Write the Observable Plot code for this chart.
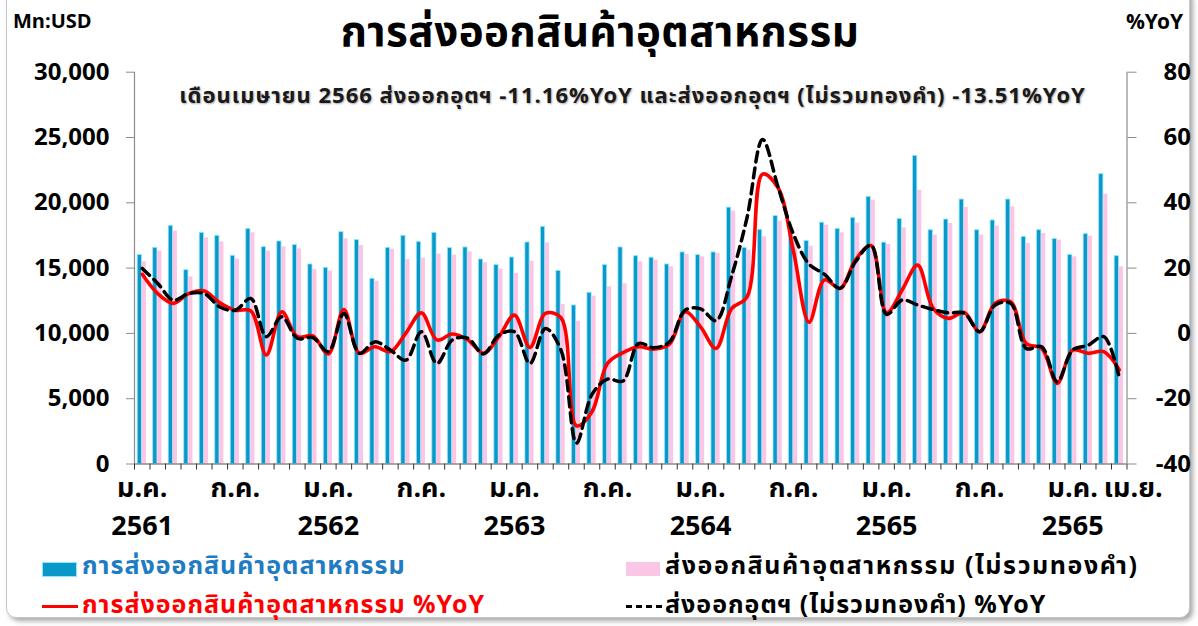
<!DOCTYPE html>
<html>
<head>
<meta charset="utf-8">
<script src="https://cdn.jsdelivr.net/npm/d3@7"></script>
<script src="https://cdn.jsdelivr.net/npm/@observablehq/plot@0.6"></script>
<style>
  html, body { margin: 0; padding: 0; background: #fff; }
  body { font-family: "Noto Sans Thai", Tahoma, "Noto Sans", "DejaVu Sans", sans-serif; }
  #wrap { position: relative; width: 1198px; height: 626px; overflow: hidden; background: #fff; }
  #frame { position: absolute; left: 6px; top: -12px; width: 1182px; height: 628px; border: 1px solid #c8c8c8; border-radius: 10px; box-shadow: 3px 3px 5px rgba(0,0,0,0.35); background: #fff; }
  #chart { position: absolute; left: 0; top: 0; }
  .t { position: absolute; white-space: nowrap; font-weight: bold; line-height: 1; }
  #title { left: 0; width: 1200px; text-align: center; top: 12px; font-size: 42px; letter-spacing: 0.5px; color: #000; }
  #unitL { left: 13px; top: 12px; font-size: 20px; }
  #unitR { right: 15px; top: 12px; font-size: 21px; }
  #sub { left: 0; width: 1265px; text-align: center; top: 86px; font-size: 22px; letter-spacing: 1px; color: #1a1a1a; text-shadow: 1px 1px 2px rgba(0,0,0,0.35); }
  .lg { position: absolute; font-size: 25px; font-weight: bold; white-space: nowrap; line-height: 1; letter-spacing: 1px; }
  .sw { position: absolute; }
</style>
</head>
<body>
<div id="wrap">
  <div id="frame"></div>
  <div id="chart"></div>
  <div class="t" id="title">การส่งออกสินค้าอุตสาหกรรม</div>
  <div class="t" id="unitL">Mn:USD</div>
  <div class="t" id="unitR">%YoY</div>
  <div class="t" id="sub">เดือนเมษายน 2566 ส่งออกอุตฯ -11.16%YoY และส่งออกอุตฯ (ไม่รวมทองคำ) -13.51%YoY</div>

  <div class="sw" style="left:42px; top:562px; width:33px; height:13px; background:#0a98c9; border:1px solid #8fe6ff;"></div>
  <div class="lg" style="left:82px; top:554px; color:#1f7cc2;">การส่งออกสินค้าอุตสาหกรรม</div>
  <div class="sw" style="left:626px; top:562px; width:34px; height:14px; background:#fbc6e6;"></div>
  <div class="lg" style="left:665px; top:554px; color:#000; letter-spacing: 1.6px;">ส่งออกสินค้าอุตสาหกรรม (ไม่รวมทองคำ)</div>

  <div class="sw" style="left:42px; top:605px; width:36px; height:3px; background:#ff0000;"></div>
  <div class="lg" style="left:82px; top:593px; color:#ff0000;">การส่งออกสินค้าอุตสาหกรรม %YoY</div>
  <div class="sw" style="left:626px; top:605px; width:36px; height:0; border-top:3px dashed #000;"></div>
  <div class="lg" style="left:665px; top:593px; color:#000;">ส่งออกอุตฯ (ไม่รวมทองคำ) %YoY</div>
</div>
<script>
// ---- categories (Jan 2561 .. Apr 2566) ----
const thaiYears = ["2561", "2562", "2563", "2564", "2565", "2566"];
const monthNums = ["01","02","03","04","05","06","07","08","09","10","11","12"];
const months = thaiYears.flatMap(y => monthNums.map(m => `${y}-${m}`)).slice(0, 64);

// ---- series: industrial exports, Mn USD ----
const exportsInd = [
  16000, 16550, 18230, 14840, 17700, 17470, 15940, 18000, 16600, 17040, 16760, 15280,
  15020, 17750, 17140, 14180, 16550, 17470, 16990, 17700, 16530, 16580, 15660, 15230,
  15810, 16960, 18160, 14790, 12140, 13110, 15230, 16580, 15910, 15790, 15280, 16200,
  15990, 16200, 19630, 16550, 17930, 18980, 17920, 17080, 18480, 18000, 18840, 20450,
  16950, 18750, 23590, 17900, 18720, 20250, 17900, 18650, 20250, 17390, 17900, 17220,
  16010, 17600, 22190, 15910
];
// ---- industrial exports excl. gold, Mn USD ----
const exportsIndExGold = [
  15480, 16300, 17830, 14330, 17320, 17010, 15690, 17700, 16300, 16630, 16470, 14900,
  14770, 17240, 16730, 14000, 16450, 15660, 15760, 16070, 15990, 16240, 15400, 14920,
  14590, 15530, 16930, 12220, 10920, 12850, 13570, 13800, 15480, 15610, 15100, 16040,
  15860, 16120, 19360, 16370, 17400, 18600, 17440, 16680, 18280, 17700, 18440, 20200,
  16810, 18080, 20960, 17520, 18420, 19640, 17520, 18210, 19690, 16890, 17650, 17140,
  15860, 17440, 20660, 15100
];
// ---- %YoY industrial exports ----
const yoyInd = [
  18.1, 12.2, 9.2, 12.2, 13.0, 9.4, 7.1, 6.9, -6.6, 6.6, -1.0, -0.8,
  -6.3, 7.3, -6.1, -4.1, -5.6, 0.1, 6.3, -2.0, -0.2, -2.0, -6.1, -1.0,
  5.6, -4.3, 6.1, 4.8, -28.3, -24.0, -9.2, -5.9, -4.1, -4.8, -3.3, 6.6,
  2.0, -4.6, 7.6, 11.2, 48.8, 44.6, 25.0, 3.4, 16.4, 13.8, 22.6, 26.9,
  6.3, 13.3, 20.9, 7.7, 4.6, 6.4, 0.5, 9.2, 9.7, -3.1, -4.6, -15.3,
  -5.1, -6.1, -5.6, -11.16
];
// ---- %YoY industrial exports excl. gold ----
const yoyIndExGold = [
  19.9, 15.3, 10.2, 12.2, 12.2, 8.1, 7.1, 10.7, -1.0, 5.1, -1.5, -1.3,
  -5.6, 6.1, -6.1, -2.6, -5.1, -8.2, 0.5, -9.2, -2.0, -1.5, -6.3, -0.5,
  0.5, -9.2, 1.5, -5.1, -33.6, -18.7, -14.0, -14.6, -3.1, -4.4, -2.6, 7.1,
  7.5, 3.9, 17.5, 35.5, 59.4, 44.8, 30.3, 21.2, 18.1, 13.8, 22.0, 27.0,
  5.8, 10.2, 8.7, 7.3, 6.3, 6.2, 0.5, 8.7, 9.2, -4.6, -4.1, -14.8,
  -5.1, -3.6, -1.0, -13.51
];

// ---- tick labels ----
const leftTicks = [0, 5000, 10000, 15000, 20000, 25000, 30000];
const rightTicks = [-40, -20, 0, 20, 40, 60, 80];
const tickMonths = ["2561-01","2561-07","2562-01","2562-07","2563-01","2563-07","2564-01","2564-07","2565-01","2565-07","2566-01","2566-04"];
const tickMonthLabels = ["ม.ค.","ก.ค.","ม.ค.","ก.ค.","ม.ค.","ก.ค.","ม.ค.","ก.ค.","ม.ค.","ก.ค.","ม.ค.","เม.ย."];
const yearTicks = ["2561-01","2562-01","2563-01","2564-01","2565-01","2566-01"];
const yearLabels = ["2561","2562","2563","2564","2565","2565"];

const data = months.map((m, i) => ({
  m, exp: exportsInd[i], exg: exportsIndExGold[i], yoy: yoyInd[i], yoyg: yoyIndExGold[i]
}));

// right axis (%YoY, -40..80) mapped onto left scale (0..30000)
const toLeft = v => (v + 40) * 250;
const fromLeft = v => v / 250 - 40;

const W = 1198, H = 626;
const mL = 134, mR = 71.5, mT = 71.7, mB = 162.5;
const bw = (W - mL - mR) / months.length;
const monthLabel = new Map(tickMonths.map((d, i) => [d, tickMonthLabels[i]]));
const yearLabel = new Map(yearTicks.map((d, i) => [d, yearLabels[i]]));
const lastTick = tickMonths[tickMonths.length - 1];
const FONT = '"Noto Sans Thai", Tahoma, "Noto Sans", "DejaVu Sans", sans-serif';

const chart = Plot.plot({
  width: W, height: H,
  marginLeft: mL, marginRight: mR, marginTop: mT, marginBottom: mB,
  style: { fontFamily: FONT, background: "transparent", overflow: "visible" },
  x: { type: "band", domain: months, padding: 0, axis: null, label: null },
  y: { domain: [0, 30000], axis: null, label: null },
  marks: [
    Plot.barY(data, { x: "m", y: "exp", fill: "#0a98c9", stroke: "#8fe6ff", strokeWidth: 0.8, insetLeft: 3.2, insetRight: 8.1 }),
    Plot.barY(data, { x: "m", y: "exg", fill: "#fbc6e6", insetLeft: 7.7, insetRight: 3.6 }),
    Plot.line(data, { x: "m", y: d => toLeft(d.yoy), stroke: "#ff0000", strokeWidth: 3.6, curve: "catmull-rom" }),
    Plot.line(data, { x: "m", y: d => toLeft(d.yoyg), stroke: "#000", strokeWidth: 3.5, strokeDasharray: "10,6", curve: "catmull-rom" }),
    // axis lines
    Plot.ruleY([0], { stroke: "#555", strokeWidth: 1.2 }),
    Plot.ruleX([months[0]], { dx: -bw / 2, stroke: "#8c8c8c", strokeWidth: 1.2 }),
    Plot.ruleX([months[months.length - 1]], { dx: bw / 2, stroke: "#8c8c8c", strokeWidth: 1.2 }),
    // left axis
    Plot.axisY({ anchor: "left", label: null, ticks: leftTicks, tickSize: 8, tickFormat: () => "", color: "#8c8c8c" }),
    Plot.axisY({ anchor: "left", label: null, ticks: leftTicks, tickSize: 0, tickPadding: 25, tickFormat: d3.format(","), fontSize: 24, fontWeight: "bold", color: "#000" }),
    // right axis
    Plot.axisY({ anchor: "right", label: null, ticks: rightTicks.map(toLeft), tickSize: 9, tickFormat: () => "", color: "#8c8c8c" }),
    Plot.axisY({ anchor: "right", label: null, ticks: rightTicks.map(toLeft), tickSize: 0, tickPadding: 64, textAnchor: "end", tickFormat: v => String(Math.round(fromLeft(v))), fontSize: 24, fontWeight: "bold", color: "#000" }),
    // month boundary ticks
    Plot.axisX({ label: null, ticks: months, tickSize: 6, tickFormat: () => "", dx: -bw / 2, color: "#333" }),
    Plot.axisX({ label: null, ticks: [months[months.length - 1]], tickSize: 6, tickFormat: () => "", dx: bw / 2, color: "#333" }),
    // month & year labels
    Plot.axisX({ label: null, ticks: tickMonths.filter(d => d !== lastTick), tickSize: 0, tickPadding: 14, tickFormat: d => monthLabel.get(d), fontSize: 27, fontWeight: "bold", color: "#000" }),
    Plot.axisX({ label: null, ticks: [lastTick], tickSize: 0, tickPadding: 14, dx: 14, tickFormat: d => monthLabel.get(d), fontSize: 27, fontWeight: "bold", color: "#000" }),
    Plot.axisX({ label: null, ticks: yearTicks, tickSize: 0, tickPadding: 52, tickFormat: d => yearLabel.get(d), fontSize: 27, fontWeight: "bold", color: "#000" })
  ]
});
document.getElementById("chart").appendChild(chart);
</script>
</body>
</html>
